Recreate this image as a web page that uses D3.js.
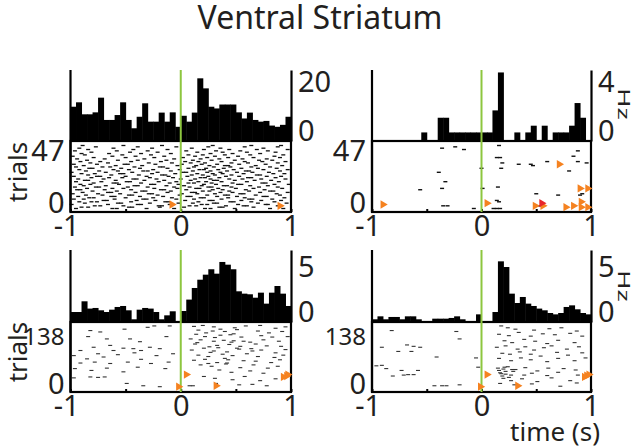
<!DOCTYPE html>
<html><head><meta charset="utf-8">
<script src="https://cdn.jsdelivr.net/npm/d3@7"></script>
<style>
html,body{margin:0;padding:0;background:#fff;}
svg{display:block;}
text{font-family:"Noto Sans","Open Sans",sans-serif;fill:#231f20;}
</style></head><body>
<svg id="chart" width="640" height="447"></svg>
<script>
// ---------- DATA ----------
const title = "Ventral Striatum";
const timeTicks = [-1, -0.5, 0, 0.5, 1];
const timeLabels = [-1, 0, 1];
const binWidth = 0.05; // s, 40 bins from -1 to 1

// PSTH firing rates (Hz), 40 bins
const histTL = [14.0,15.8,10.9,10.9,11.7,17.7,8.6,8.6,10.6,15.8,8.6,5.2,9.9,15.4,7.9,7.9,11.6,7.9,11.7,5.8,
                10.3,7.9,11.6,25.6,21.5,14.0,13.3,14.9,14.9,14.9,11.7,9.2,11.6,8.6,7.9,8.2,6.3,5.8,6.6,9.9];
const histTR = [0,0,0,0,0,0,0,0,0,0.7,0,0,1.9,1.9,0.7,0.7,0.7,0.7,0.7,0.7,
                0.7,0.7,2.5,5.6,0,0,0.7,0,0.7,1.25,0,1.25,0,0.7,0.7,0.7,1.25,3.1,1.9,0];
const histBL = [1.11,1.11,2.3,1.49,1.56,1.3,1.11,1.37,1.67,1.78,1.3,0.3,1.37,1.56,1.49,1.11,0.3,0.74,1.19,0.1,
                1.22,2.49,3.78,4.7,5.26,5.86,5.37,6.67,6.37,5.86,3.41,3.15,3.08,2.7,3.26,2.04,3.26,4.0,3.15,1.78];
const histBR = [0.3,0.63,0.3,0.56,0.56,0.3,0.63,0.63,0.3,0,0,0.37,0.37,0.37,0.45,0.63,0.3,0,0,0.85,
                0,0.1,1.11,6.74,6.11,3.15,2.11,2.78,2.04,1.78,1.49,1.3,1.0,0.85,1.0,1.67,1.85,1.41,1.0,0.85];

const hzTicksTL = [0, 20], hzTicksTR = [0, 4], hzTicksBL = [0, 5], hzTicksBR = [0, 5];
const hzMaxTL = 29, hzMaxTR = 5.8, hzMaxBL = 8, hzMaxBR = 8;
const trialsTop = 47, trialsBottom = 138;

// Raster, top-left: spike times (1/100 s) per trial, trial 0 .. 47
const rasterTLByTrial = [
 [-95,-62,-58,-31,-6,22,27,49,81,93],
 [-90,-84,-47,-44,-19,3,35,38,66],
 [-78,-73,-52,-20,-17,8,14,41,57,60,88],
 [-99,-66,-39,-36,-10,19,24,52,77,79],
 [-87,-57,-54,-28,-2,11,30,33,70,96],
 [-92,-81,-76,-45,-14,-11,16,45,48,64,85],
 [-70,-67,-40,-23,4,26,29,55,73,91],
 [-97,-88,-60,-34,-31,-4,12,37,62,65,83],
 [-83,-79,-50,-25,-8,18,21,43,58,94],
 [-93,-63,-60,-37,-16,6,9,33,51,75,78],
 [-86,-71,-47,-44,-21,-1,24,40,43,68,90],
 [-98,-75,-55,-29,-26,1,15,31,54,57,87],
 [-89,-66,-63,-41,-12,10,13,36,47,72,97],
 [-80,-58,-35,-32,-9,20,26,44,62,81,84],
 [-94,-91,-69,-45,-18,-15,5,29,38,59,76],
 [-85,-62,-52,-24,-3,14,17,34,50,66,92],
 [-96,-77,-74,-48,-30,-6,8,25,28,46,71,88],
 [-88,-68,-42,-39,-13,3,19,39,42,63,79],
 [-91,-82,-56,-27,-24,-2,21,32,52,55,85,98],
 [-79,-61,-58,-36,-10,7,12,28,47,74,77],
 [-95,-72,-49,-46,-20,-4,16,23,37,60,89],
 [-87,-84,-59,-33,-15,9,30,33,49,67,82],
 [-93,-70,-43,-40,-22,0,13,27,44,56,73,95],
 [-81,-65,-53,-28,-7,18,22,35,61,64,86],
 [-97,-76,-73,-50,-31,-11,6,25,41,53,78,91],
 [-84,-63,-38,-17,-14,10,20,31,46,69,72],
 [-90,-78,-55,-52,-26,-5,15,29,38,57,84,94],
 [-99,-68,-44,-21,2,5,24,36,51,65,80],
 [-86,-74,-57,-34,-30,-9,11,27,42,59,62,90],
 [-92,-61,-47,-25,-1,17,21,34,48,75,97],
 [-83,-80,-54,-37,-12,7,23,39,55,70,87],
 [-95,-71,-64,-42,-19,-16,12,30,45,64,81],
 [-88,-59,-35,-3,14,26,40,43,68,92],
 [-97,-76,-51,-48,-23,1,19,33,53,77],
 [-82,-66,-29,-8,9,22,46,61,88],
 [-91,-73,-45,-18,4,16,37,58,74,95],
 [-85,-57,-39,-13,11,28,49,71,83],
 [-94,-69,-33,-6,18,35,56,78],
 [-79,-50,-24,2,24,43,66,90],
 [-98,-62,-41,-15,13,31,52,85],
 [-87,-53,-27,7,20,40,63,93],
 [-90,-65,-36,-9,27,47,72],
 [-81,-46,-21,15,38,60,86],
 [-96,-58,-30,5,32,54,79],
 [-84,-43,-12,21,44,69,97],
 [-92,-61,-26,10,36,75],
 [-77,-39,-4,25,58,88],
 [-89,-52,-17,29,64,91]
];

// Raster spikes as [time (1/100 s), trial]
const rasterTR = [[-36,45],[-24,46],[-16,44],[16,47],[14,38],[17,38],[19,34],[18,30],[34,33],[45,33],[47,32],
 [60,35],[84,39],[88,43],[88,35],[96,34],[80,28],[-39,27],[-33,20],[-36,15],[-56,14],[0,30],[1,15],[15,16],
 [14,6],[16,5],[-35,2],[-31,2],[-7,0],[11,0],[14,0],[17,0],[50,11],[70,10],[90,10],[92,11],[53,2]];

const rasterBL = [[-82,126],[-73,123],[-51,129],[-30,133],[-24,136],[-10,136],[-84,113],[-67,108],[-46,108],[-13,113],
 [-37,102],[-79,90],[-64,94],[-52,88],[-43,87],[-28,90],[-91,83],[-75,76],[-61,83],[-36,83],[-19,87],[-97,72],[-85,65],
 [-70,69],[-57,74],[-42,78],[-22,72],[-7,76],[-91,56],[-78,58],[-64,55],[-48,58],[-36,64],[-27,55],[-11,58],[-96,44],
 [-81,40],[-67,45],[-52,37],[-39,47],[-14,44],[-97,24],[-82,26],[-75,25],[-69,26],[-19,5],[-49,12],[-34,7],
 [12,135],[20,137],[30,134],[49,132],[59,136],[72,137],[86,131],[95,134],
 [16,127],[29,125],[40,124],[51,128],[70,125],[80,121],[92,124],
 [14,118],[22,113],[36,116],[45,117],[55,112],[73,115],[83,112],[97,113],
 [9,108],[18,106],[30,103],[39,105],[48,104],[63,101],[75,106],[89,103],
 [13,97],[26,91],[33,94],[44,96],[54,92],[68,97],[78,93],[91,92],
 [10,84],[21,88],[30,82],[42,80],[53,86],[65,82],[73,84],[86,78],[95,85],
 [16,73],[25,70],[38,75],[47,72],[60,76],[70,70],[85,68],[93,73],
 [12,62],[22,64],[33,57],[43,63],[57,61],[68,60],[82,57],[90,63],
 [18,52],[28,49],[41,54],[54,46],[66,52],[79,45],[88,49],
 [35,41],[46,36],[63,39],[75,34],
 [21,27],[31,23],[47,20],[58,27],[72,18],[86,22],
 [8,7],[11,7],[32,12],[53,9],[65,10],[78,7],
 [23,121],[31,111],[46,101],[51,88],[27,79],[40,66],[34,89],[48,119],[57,103],[64,87],[15,100],[42,56],[36,129],[25,55]];

const rasterBR = [[-82,126],[-23,124],[-20,108],[-91,90],[-68,95],[-62,92],[-76,81],[-64,81],[-56,90],[-41,69],[-5,67],
 [-91,51],[-96,50],[-87,44],[-73,40],[-58,40],[-67,31],[-81,28],[-71,30],[-62,31],[-43,7],[-36,7],[-32,7],[-20,9],[-3,47],
 [18,136],[24,132],[31,129],[48,127],[62,130],[73,132],[87,125],
 [16,118],[25,115],[34,122],[45,114],[56,119],[67,117],[81,120],[92,114],
 [21,104],[28,100],[39,107],[49,103],[60,98],[70,105],[85,100],
 [14,90],[22,93],[33,86],[40,91],[48,84],[57,89],[64,93],[78,86],[89,91],
 [19,77],[26,75],[35,80],[45,75],[54,71],[69,79],[79,73],[92,78],
 [16,66],[27,61],[36,67],[45,63],[60,59],[70,66],[85,61],[95,67],
 [15,45],[20,43],[24,48],[31,42],[40,46],[51,39],[61,45],[75,44],[86,41],
 [17,35],[22,32],[29,38],[39,30],[46,34],[60,29],[70,36],[88,30],
 [20,23],[27,18],[37,22],[51,16],[64,24],[81,18],
 [17,12],[30,9],[46,11],[72,6],[87,13],
 [16,40],[19,28],[22,38],[25,25],[28,42],[21,47],[18,33],[27,30]];

// Event markers [time (1/100 s), trial, kind]
const eventsTL = [[-8,3,0],[90,2,0]];
const eventsTR = [[-90,3,0],[71,33,0],[5,4,0],[49,2,0],[56,2,0],[55,4,1],[90,15,0],[97,15,0],[77,1,0],[84,2,0],[91,5,0],[91,1,0],[97,1,0]];
const eventsBL = [[5,31,0],[-2,5,0],[32,7,0],[93,26,0],[96,28,0],[97,31,0]];
const eventsBR = [[5,31,0],[-1,5,0],[33,7,0],[94,26,0],[96,29,0],[98,31,0]];

// ---------- LAYOUT / STYLE ----------
const cols = [{x0:70.5, x1:291}, {x0:372, x1:591}];
const rows = [
  {top:70, base:141, rTop:145.5, rBot:208.5, boxBot:212, nudgeN:5.5, nudge0:-5.5},
  {top:250, base:322, rTop:325, rBot:389, boxBot:392, nudgeN:11.5, nudge0:-5}
];
const GREEN = "#8dc63f", ORANGE = "#f58220", RED = "#e8262b", INK = "#231f20";
const binStarts = d3.range(histTL.length).map(i => -1 + i * binWidth);
const rasterTL = rasterTLByTrial.flatMap((row, trial) => row.map(t => [t, trial]));

const panels = [
  {col:0,row:0,hist:histTL,ticks:hzTicksTL,max:hzMaxTL,raster:rasterTL,events:eventsTL,n:trialsTop,spikeH:1.3,spikeC:"#111"},
  {col:1,row:0,hist:histTR,ticks:hzTicksTR,max:hzMaxTR,raster:rasterTR,events:eventsTR,n:trialsTop,spikeH:1.4,spikeC:"#111"},
  {col:0,row:1,hist:histBL,ticks:hzTicksBL,max:hzMaxBL,raster:rasterBL,events:eventsBL,n:trialsBottom,spikeH:1.1,spikeC:"#333"},
  {col:1,row:1,hist:histBR,ticks:hzTicksBR,max:hzMaxBR,raster:rasterBR,events:eventsBR,n:trialsBottom,spikeH:1.1,spikeC:"#333"}
];

const svg = d3.select("#chart");
const FS = 29;

panels.forEach(p => {
  const c = cols[p.col], r = rows[p.row];
  const g = svg.append("g");
  const x = d3.scaleLinear().domain([-1, 1]).range([c.x0, c.x1]);
  const y = d3.scaleLinear().domain([0, p.max]).range([r.base, r.top]);
  const ry = d3.scaleLinear().domain([0, p.n]).range([r.rBot, r.rTop]);

  // histogram bars
  g.append("g").selectAll("rect").data(p.hist).join("rect")
    .attr("x", (d, i) => x(binStarts[i]))
    .attr("width", x(binWidth) - x(0) + 0.5)
    .attr("y", d => y(d))
    .attr("height", d => d > 0 ? r.base - y(d) + 1 : 0)
    .attr("fill", "#000");

  // raster spikes
  g.append("g").selectAll("rect").data(p.raster).join("rect")
    .attr("x", d => x(d[0] / 100) - 2)
    .attr("y", d => ry(d[1]) - p.spikeH / 2)
    .attr("width", 4).attr("height", p.spikeH)
    .attr("fill", p.spikeC);

  // raster box
  g.append("rect").attr("x", c.x0).attr("y", r.base)
    .attr("width", c.x1 - c.x0).attr("height", r.boxBot - r.base)
    .attr("fill", "none").attr("stroke", "#000").attr("stroke-width", 2.2);
  // left axis line
  g.append("line").attr("x1", c.x0).attr("x2", c.x0).attr("y1", r.top).attr("y2", r.boxBot)
    .attr("stroke", "#000").attr("stroke-width", 2.2);
  // right hist axis
  const ra = g.append("g").attr("transform", `translate(${c.x1},0)`)
    .call(d3.axisRight(y).tickValues(p.ticks).tickSize(0).tickPadding(7).tickFormat(d3.format("d")));
  ra.select(".domain").attr("stroke", "#000").attr("stroke-width", 2.2);
  ra.selectAll("text").attr("font-size", FS).attr("font-family", null).attr("fill", INK)
    .attr("transform", "translate(0,-10)");

  // raster trial axis labels
  const la = g.append("g").attr("transform", `translate(${c.x0},0)`)
    .call(d3.axisLeft(ry).tickValues([0, p.n]).tickSize(0).tickPadding(6).tickFormat(d3.format("d")));
  la.select(".domain").remove();
  la.selectAll("text").attr("font-family", null).attr("fill", INK)
    .attr("font-size", d => String(d).length > 2 ? 24 : FS)
    .attr("transform", d => `translate(0,${d === 0 ? r.nudge0 : r.nudgeN})`);

  // time axis
  const xa = g.append("g").attr("transform", `translate(0,${r.boxBot})`)
    .call(d3.axisBottom(x).tickValues(timeTicks).tickSize(-3).tickPadding(3)
      .tickFormat(d => timeLabels.includes(d) ? (d < 0 ? "-" + Math.abs(d) : String(d)) : ""));
  xa.select(".domain").remove();
  xa.selectAll(".tick line").attr("stroke", "#000").attr("stroke-width", 2);
  xa.selectAll("text").attr("font-size", FS).attr("font-family", null).attr("fill", INK)
    .attr("dx", d => d < 0 ? "-0.15em" : 0);

  // event (green) line at time 0
  g.append("line").attr("x1", x(0)).attr("x2", x(0)).attr("y1", r.top).attr("y2", r.boxBot)
    .attr("stroke", GREEN).attr("stroke-width", 2);

  // event markers
  const tri = d3.symbol().type(d3.symbolTriangle).size(30);
  g.append("g").selectAll("path").data(p.events).join("path")
    .attr("d", tri)
    .attr("transform", d => `translate(${x(d[0] / 100)},${ry(d[1])}) rotate(90)`)
    .attr("fill", d => d[2] ? RED : ORANGE);
});

// titles & labels
svg.append("text").attr("x", 320).attr("y", 29).attr("text-anchor", "middle")
  .attr("font-size", 32).text(title);
[172, 352].forEach(cy => svg.append("text").attr("transform", `translate(27,${cy}) rotate(-90)`)
  .attr("text-anchor", "middle").attr("font-size", 26).text("trials"));
[104, 286].forEach(cy => svg.append("text").attr("transform", `translate(618,${cy}) rotate(90) scale(1,0.62)`)
  .attr("text-anchor", "middle").attr("font-size", 26).text("Hz"));
svg.append("text").attr("x", 555).attr("y", 441).attr("text-anchor", "middle")
  .attr("font-size", 26).text("time (s)");
</script>
</body></html>
